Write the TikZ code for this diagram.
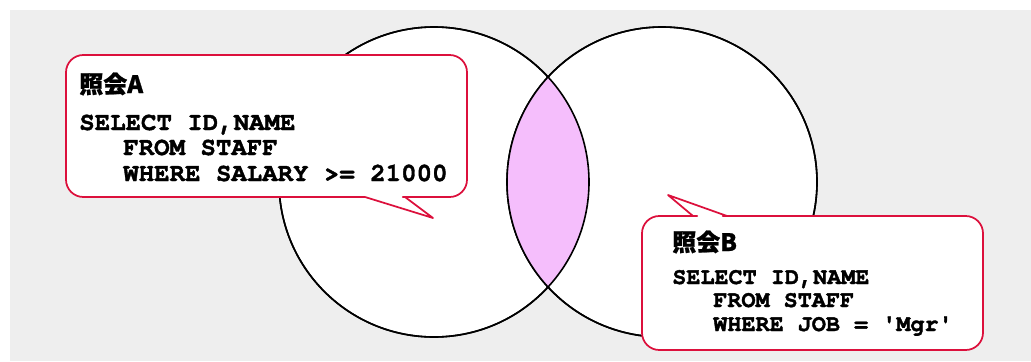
\documentclass[tikz,border=0pt]{standalone}
\usepackage{fontspec}
\setmonofont{texgyrecursor}[Extension=.otf, UprightFont=*-regular, BoldFont=*-bold, BoldFeatures={FakeBold=1.5}]
\newfontfamily\jpfont{Noto Sans CJK JP}[BoldFeatures={FakeBold=1}]
\definecolor{bggray}{RGB}{238,238,238}
\definecolor{lenspink}{RGB}{245,190,252}
\definecolor{calloutred}{RGB}{220,16,60}
\begin{document}
\begin{tikzpicture}[x=0.75pt,y=-0.75pt,
  bubble/.style={draw=calloutred, line width=1.3pt, fill=white, line join=round},
  venn/.style={draw=black, line width=1.2pt},
  setnode/.style={circle, minimum size=232.5pt, inner sep=0pt, fill=white, venn},
  headA/.style={anchor=base west, inner sep=0pt, font=\jpfont\bfseries\fontsize{18}{18}\selectfont},
  codeA/.style={anchor=base west, inner sep=0pt, font=\ttfamily\bfseries\fontsize{19.3}{19.3}\selectfont},
  codeB/.style={anchor=base west, inner sep=0pt, font=\ttfamily\bfseries\fontsize{17.6}{17.6}\selectfont}]
\useasboundingbox (0,0) rectangle (1031,361);
\fill[bggray] (10,10) rectangle (1031,361);
% Venn circles
\node[setnode] (setA) at (434,182) {};
\node[setnode] (setB) at (662,182) {};
\begin{scope}
  \clip (setA.center) circle[radius=116.25pt];
  \fill[lenspink] (setB.center) circle[radius=116.25pt];
\end{scope}
\draw[venn] (setA.center) circle[radius=116.25pt];
\draw[venn] (setB.center) circle[radius=116.25pt];
% Callout A
\draw[bubble] [rounded corners=13pt] (200,55) -- (467,55) -- (467,197) -- (420,197)
  [sharp corners] -- (405,197) -- (433,218) -- (365,197) -- (350,197)
  [rounded corners=13pt] -- (66,197) -- (66,55) -- cycle;
\node[headA] (hA) at (79,93) {照会A};
\node[codeA] (a1) at (79,130) {SELECT ID,NAME};
\node[codeA] (a2) at (123,155) {FROM STAFF};
\node[codeA] (a3) at (123,181) {WHERE SALARY >= 21000};
% Callout B
\draw[bubble] [rounded corners=13pt] (680,216) -- (642,216) -- (642,350) -- (983,350) -- (983,216) -- (740,216)
  [sharp corners] -- (727,216) -- (668,195) -- (693,216) -- (685,216)
  [rounded corners=13pt] -- cycle;
\node[headA] (hB) at (672,251) {照会B};
\node[codeB] (b1) at (672,284) {SELECT ID,NAME};
\node[codeB] (b2) at (713,307) {FROM STAFF};
\node[codeB] (b3) at (713,331) {WHERE JOB = 'Mgr'};
\end{tikzpicture}
\end{document}
